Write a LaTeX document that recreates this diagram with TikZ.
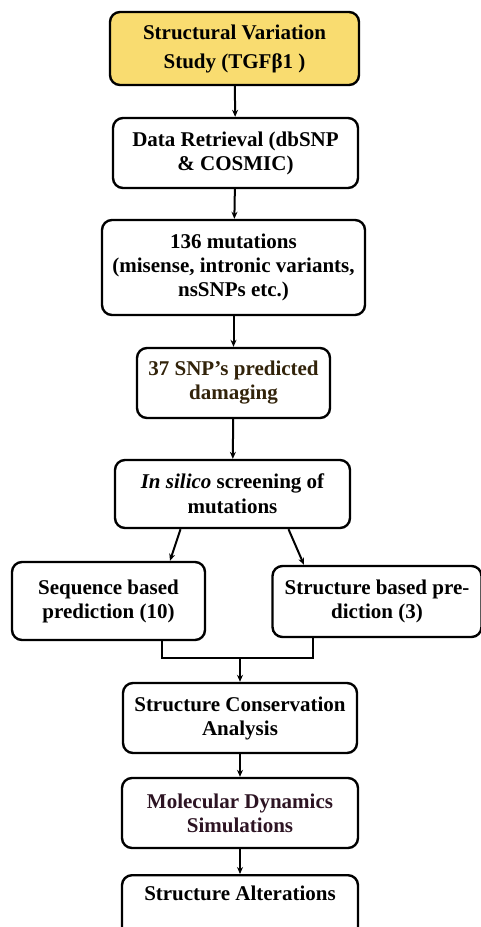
\documentclass[tikz,border=0pt]{standalone}
\usepackage{fontspec}
\setmainfont{Liberation Serif}
\usetikzlibrary{arrows.meta,calc}
\definecolor{boxyellow}{RGB}{249,220,112}
\definecolor{browntext}{RGB}{50,35,10}
\definecolor{purpletext}{RGB}{45,20,35}
\begin{document}
\begin{tikzpicture}[x=1pt,y=1pt,
  box/.style={draw=black,line width=2.4pt,rounded corners=10pt,fill=white,align=center,
    font=\fontsize{21}{24}\selectfont\bfseries,inner sep=3pt},
  arr/.style={line width=2pt,-{Stealth[length=7pt,width=6pt]}},
  ln/.style={line width=2.4pt}]
\useasboundingbox (0,0) rectangle (481,-927);
\begin{scope}
\clip (0,0) rectangle (481,-927);
\node[box,fill=boxyellow,minimum width=249pt,minimum height=73pt,font=\fontsize{21}{29}\selectfont\bfseries] (b1) at (234.5,-48.5) {Structural Variation\\Study (TGFβ1 )};
\node[box,minimum width=245pt,minimum height=70pt] (b2) at (235.5,-153) {Data Retrieval (dbSNP\\\& COSMIC)};
\node[box,minimum width=263pt,minimum height=95pt] (b3) at (233.5,-267.5) {136 mutations\\(misense, intronic variants,\\nsSNPs etc.)};
\node[box,text=browntext,minimum width=193pt,minimum height=70pt] (b4) at (233.5,-383) {37 SNP’s predicted\\damaging};
\node[box,minimum width=235pt,minimum height=68pt,font=\fontsize{21}{25}\selectfont\bfseries] (b5) at (232.5,-494) {\textit{In silico} screening of\\mutations};
\node[box,minimum width=193pt,minimum height=78pt] (b6) at (108.5,-601) {Sequence based\\prediction (10)};
\node[box,minimum width=209pt,minimum height=71pt] (b7) at (377,-601.5) {Structure based pre-\\diction (3)};
\node[box,minimum width=234pt,minimum height=70pt] (b8) at (240,-718) {Structure Conservation\\Analysis};
\node[box,text=purpletext,minimum width=236pt,minimum height=70pt] (b9) at (240,-813) {Molecular Dynamics\\Simulations};
\node[box,anchor=north,minimum width=236pt,inner ysep=4pt,text height=21pt,text depth=50pt] (b10) at (240,-874) {Structure Alterations};
\draw[arr] (b1) -- (b2);
\draw[arr] (b2) -- (b3);
\draw[arr] (b3) -- (b4);
\draw[arr] (b4) -- (b5);
\draw[arr] ([xshift=-52pt]b5.south) -- ([xshift=61.5pt]b6.north);
\draw[arr] ([xshift=56pt]b5.south) -- ([xshift=-73pt]b7.north);
\coordinate (m) at (240,-658);
\draw[ln] ([xshift=53.5pt]b6.south) |- (m) -| ([xshift=-64pt]b7.south);
\draw[arr] (m) -- (b8.north);
\draw[arr] (b8) -- (b9);
\draw[arr] (b9) -- (b10);
\end{scope}
\end{tikzpicture}
\end{document}
